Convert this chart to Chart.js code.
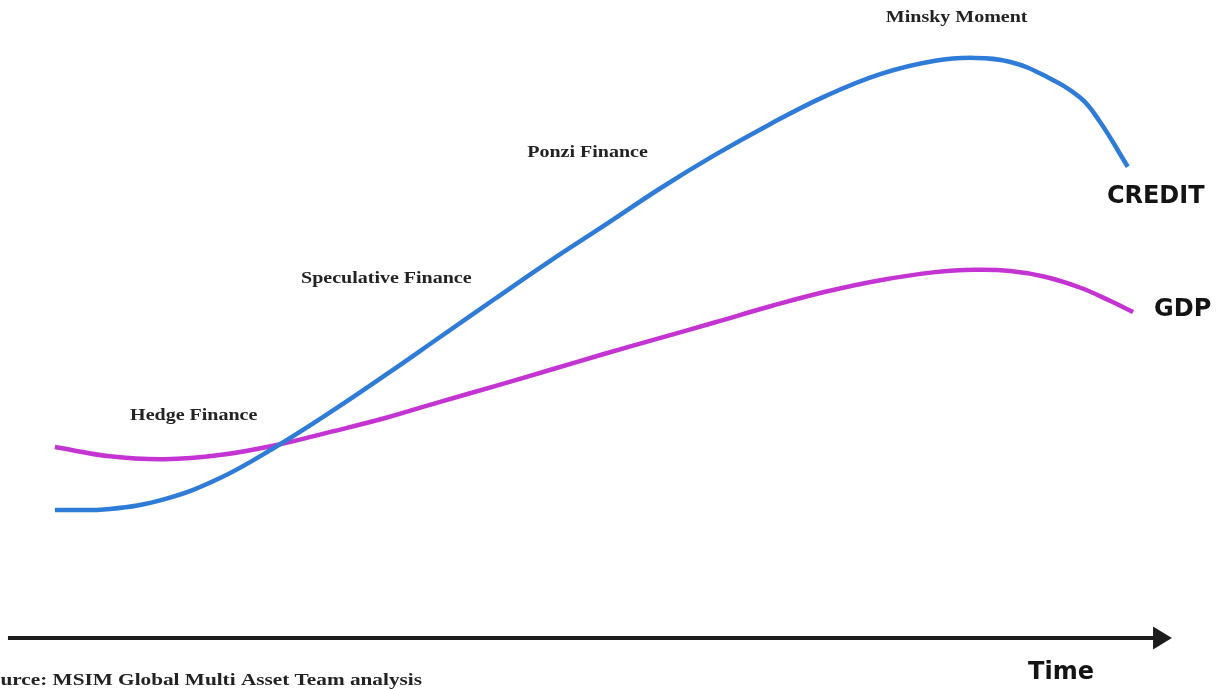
<!DOCTYPE html>
<html>
<head>
<meta charset="utf-8">
<title>Credit vs GDP – Minsky cycle</title>
<script src="https://cdn.jsdelivr.net/npm/chart.js@4.4.1/dist/chart.umd.min.js"></script>
<style>
  html, body { margin: 0; padding: 0; background: #ffffff; }
  #wrap { width: 1216px; height: 689px; position: relative; }
</style>
</head>
<body>
<div id="wrap"><canvas id="c" width="1216" height="689"></canvas></div>
<script>
// Time along the cycle (arbitrary units) and the level of each series
const creditTime  = [0.1, 5.2, 10.3, 15.4, 20.6, 25.7, 30.8, 35.9, 41.0, 46.1, 51.2, 56.3, 61.4, 66.6, 71.7, 76.8, 81.9, 85.6, 88.9, 92.1, 95.4, 97.2, 99.8];
const creditLevel = [21.9, 22.1, 23.8, 27.4, 32.8, 38.8, 45.2, 51.8, 58.4, 64.9, 71.1, 77.4, 83.2, 88.6, 93.4, 97.2, 99.5, 100.0, 99.3, 96.9, 93.1, 89.0, 81.2];

const gdpTime  = [0.1, 5.2, 10.3, 15.4, 20.6, 25.7, 30.8, 35.9, 41.0, 46.1, 51.2, 56.3, 61.4, 66.6, 71.7, 76.8, 81.9, 85.6, 88.9, 92.1, 95.4, 98.2, 100.3];
const gdpLevel = [32.8, 31.2, 30.7, 31.4, 33.1, 35.4, 37.8, 40.6, 43.3, 46.1, 48.9, 51.6, 54.3, 57.1, 59.6, 61.6, 63.0, 63.4, 63.2, 62.2, 60.3, 58.0, 56.1];

// Phase annotations and series names
const phaseLabels  = ["Hedge Finance", "Speculative Finance", "Ponzi Finance", "Minsky Moment"];
const seriesNames  = ["CREDIT", "GDP"];
const axisTitle    = "Time";
const sourceNote   = "Source: MSIM Global Multi Asset Team analysis";

const toPoints = (xs, ys) => xs.map((x, i) => ({ x: x, y: ys[i] }));

// Where each annotation sits, in (time, level) units
const phasePos  = [[13.0, 38.2], [30.9, 61.8], [49.6, 83.6], [83.9, 106.9]];
const seriesPos = [[102.4, 76.1], [104.9, 56.5]];

const decorations = {
  id: 'decorations',
  afterDatasetsDraw(chart) {
    const ctx = chart.ctx;
    const xs = chart.scales.x, ys = chart.scales.y;
    const px = v => xs.getPixelForValue(v);
    const py = v => ys.getPixelForValue(v);

    ctx.save();
    // Time axis with arrow head
    const y0 = py(0) + 1;
    const xStart = px(-4.26), xTip = px(103.9), xBase = px(102.15);
    ctx.strokeStyle = '#1c1c1c';
    ctx.lineWidth = 4;
    ctx.beginPath();
    ctx.moveTo(xStart, y0);
    ctx.lineTo(xBase + 2, y0);
    ctx.stroke();
    ctx.fillStyle = '#1c1c1c';
    ctx.beginPath();
    ctx.moveTo(xTip, y0);
    ctx.lineTo(xBase, y0 - 11.5);
    ctx.lineTo(xBase, y0 + 11.5);
    ctx.closePath();
    ctx.fill();

    // Serif phase labels (wide set)
    const wideText = (txt, x, y, size, align) => {
      ctx.save();
      ctx.translate(x, y);
      ctx.scale(1.25, 1);
      ctx.font = 'bold ' + size + 'px "Liberation Serif", "DejaVu Serif", serif';
      ctx.textAlign = align;
      ctx.textBaseline = 'middle';
      ctx.fillStyle = '#222222';
      ctx.fillText(txt, 0, 0);
      ctx.restore();
    };
    phaseLabels.forEach((t, i) => wideText(t, px(phasePos[i][0]), py(phasePos[i][1]), 16, 'center'));
    wideText(sourceNote, px(-7.04), py(-7.6), 17, 'left');

    // Series names and axis title
    ctx.font = 'bold 24px "DejaVu Sans", sans-serif';
    ctx.textAlign = 'center';
    ctx.textBaseline = 'middle';
    ctx.fillStyle = '#141414';
    seriesNames.forEach((t, i) => ctx.fillText(t, px(seriesPos[i][0]), py(seriesPos[i][1])));
    ctx.fillText(axisTitle, px(93.6), py(-6.2));
    ctx.restore();
  }
};

new Chart(document.getElementById('c'), {
  type: 'line',
  data: {
    datasets: [
      {
        label: seriesNames[0],
        data: toPoints(creditTime, creditLevel),
        borderColor: '#2f7bd8',
        borderWidth: 4.5,
        pointRadius: 0,
        tension: 0.4,
        fill: false
      },
      {
        label: seriesNames[1],
        data: toPoints(gdpTime, gdpLevel),
        borderColor: '#c434d2',
        borderWidth: 4.5,
        pointRadius: 0,
        tension: 0.4,
        fill: false
      }
    ]
  },
  options: {
    responsive: false,
    animation: false,
    layout: { padding: 0 },
    plugins: { legend: { display: false }, tooltip: { enabled: false } },
    scales: {
      x: { type: 'linear', min: -5, max: 108, display: false },
      y: { type: 'linear', min: -9, max: 110, display: false }
    }
  },
  plugins: [decorations]
});
</script>
</body>
</html>
